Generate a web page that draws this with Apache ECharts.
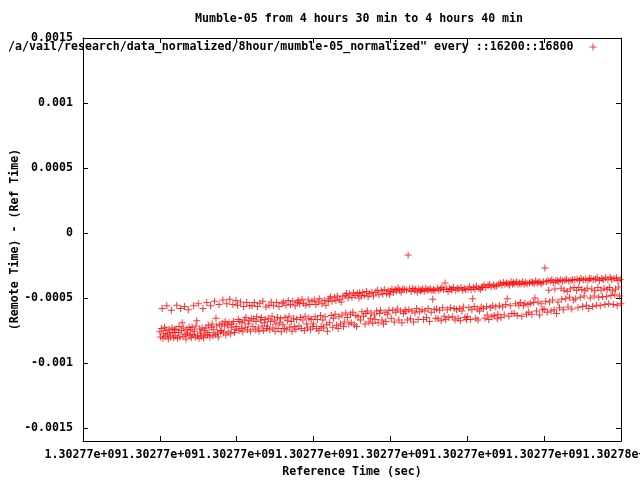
<!DOCTYPE html>
<html><head><meta charset="utf-8">
<script src="https://cdn.jsdelivr.net/npm/echarts@6/dist/echarts.min.js"></script>
<style>html,body{margin:0;padding:0;background:#fff}#c{width:640px;height:480px}</style>
</head><body><div id="c"></div>
<script>
const chartTitle = 'Mumble-05 from 4 hours 30 min to 4 hours 40 min';
const seriesName = '/a/vail/research/data_normalized/8hour/mumble-05_normalized" every ::16200::16800';
const xAxisName = 'Reference Time (sec)';
const yAxisName = '(Remote Time) - (Ref Time)';
const xMin = 1302774300, xMax = 1302775000, xInterval = 100;
const xTickLabels = ['1.30277e+09','1.30277e+09','1.30277e+09','1.30277e+09','1.30277e+09','1.30277e+09','1.30277e+09','1.30278e+09'];
const yMin = -0.0016, yMax = 0.0015;
const yTicks = [-0.0015, -0.001, -0.0005, 0, 0.0005, 0.001, 0.0015];
const sampleStart = 1302774400; // first sample time (sec), one sample per second
// (Remote Time) - (Ref Time), microseconds, one value per second
const offsetMicros = [
-760,-800,-735,-580,-810,-775,-725,-795,-750,-560,-785,-815,-740,-770,-800,-595,-730,-765,-805,-745,
-790,-740,-555,-810,-765,-720,-800,-580,-750,-690,-795,-730,-565,-780,-815,-745,-770,-590,-725,-790,
-745,-805,-725,-780,-560,-755,-800,-715,-675,-790,-545,-810,-740,-770,-795,-730,-580,-805,-750,-785,
-730,-535,-785,-710,-765,-800,-560,-725,-700,-790,-745,-525,-780,-655,-715,-770,-800,-550,-705,-760,
-750,-695,-515,-770,-715,-680,-785,-545,-705,-760,-690,-510,-775,-725,-700,-550,-680,-765,-740,-520,
-720,-555,-665,-750,-680,-530,-735,-690,-760,-565,-670,-725,-650,-535,-745,-700,-675,-560,-755,-660,
-560,-720,-660,-535,-745,-680,-645,-565,-730,-755,-540,-670,-650,-715,-525,-750,-690,-665,-570,-735,
-715,-655,-555,-745,-680,-530,-640,-730,-560,-670,-755,-700,-535,-650,-735,-565,-690,-660,-760,-540,
-705,-530,-735,-650,-555,-745,-675,-520,-640,-725,-550,-680,-755,-525,-655,-720,-560,-740,-665,-535,
-520,-715,-545,-650,-735,-510,-670,-540,-750,-640,-555,-700,-730,-515,-655,-550,-745,-665,-525,-720,
-700,-515,-645,-550,-735,-665,-530,-750,-505,-635,-720,-545,-670,-730,-520,-645,-555,-705,-755,-525,
-505,-690,-490,-635,-525,-725,-655,-495,-625,-520,-710,-485,-735,-645,-510,-700,-530,-630,-490,-720,
-685,-480,-615,-465,-650,-500,-700,-470,-625,-690,-495,-610,-460,-705,-480,-635,-720,-465,-645,-500,
-460,-670,-485,-605,-455,-640,-480,-700,-620,-450,-600,-490,-685,-465,-655,-615,-455,-695,-485,-630,
-665,-455,-600,-440,-690,-475,-620,-595,-445,-670,-470,-700,-435,-610,-680,-465,-625,-445,-595,-475,
-450,-655,-430,-595,-455,-685,-435,-610,-445,-585,-425,-670,-440,-600,-455,-690,-430,-620,-435,-590,
-605,-440,-670,-170,-590,-430,-660,-450,-600,-425,-685,-440,-615,-430,-580,-455,-665,-430,-605,-445,
-440,-590,-430,-665,-450,-600,-425,-650,-440,-580,-435,-680,-430,-610,-445,-510,-435,-590,-440,-655,
-585,-425,-660,-440,-595,-430,-675,-420,-575,-435,-640,-385,-665,-430,-590,-450,-650,-425,-575,-435,
-435,-645,-420,-580,-670,-440,-590,-425,-655,-430,-580,-675,-420,-600,-440,-570,-425,-650,-435,-665,
-645,-430,-575,-415,-665,-435,-590,-505,-420,-565,-430,-655,-410,-585,-670,-425,-600,-435,-570,-420,
-415,-580,-400,-655,-420,-565,-630,-405,-665,-395,-575,-415,-645,-560,-400,-635,-410,-570,-405,-660,
-625,-395,-560,-385,-650,-400,-570,-380,-630,-395,-550,-385,-505,-390,-640,-400,-560,-375,-620,-395,
-380,-620,-390,-545,-375,-635,-395,-555,-385,-535,-390,-640,-375,-560,-395,-540,-380,-625,-390,-550,
-610,-385,-540,-375,-625,-380,-535,-390,-500,-370,-600,-385,-530,-375,-630,-380,-545,-390,-590,-375,
-585,-270,-525,-375,-610,-365,-440,-530,-370,-600,-360,-515,-380,-590,-430,-370,-620,-365,-530,-375,
-575,-360,-425,-510,-370,-590,-440,-365,-505,-355,-450,-570,-370,-495,-430,-365,-585,-360,-515,-420,
-360,-505,-440,-355,-575,-420,-365,-495,-350,-435,-565,-360,-485,-445,-355,-555,-425,-365,-580,-350,
-500,-350,-430,-565,-360,-485,-445,-355,-555,-345,-420,-495,-365,-560,-440,-350,-490,-360,-425,-550,
-345,-490,-435,-355,-545,-420,-340,-480,-360,-445,-550,-350,-475,-430,-345,-555,-365,-415,-485,-355,
-545
];
const points = offsetMicros.map((v, i) => [sampleStart + i, v / 1e6]);

const FONT = 'DejaVu Sans Mono';
const fs = 11.6;
const fw = 'bold';
const plus = 'path://M3,0H4V3H7V4H4V7H3V4H0V3H3Z';
const axisLineStyle = {color: '#000', width: 1};
const chart = echarts.init(document.getElementById('c'), null, {renderer: 'canvas'});
const xLabelFmt = v => xTickLabels[Math.round((v - xMin) / xInterval)] || '';
chart.setOption({
  animation: false,
  backgroundColor: '#fff',
  textStyle: {fontFamily: FONT, fontSize: fs, fontWeight: fw, color: '#000'},
  title: {text: chartTitle, left: 354, top: 8, textAlign: 'center',
    textStyle: {fontFamily: FONT, fontSize: fs, fontWeight: fw, color: '#000'}},
  legend: {data: [seriesName], right: 43.5, top: 41, align: 'right', icon: plus,
    itemWidth: 29, itemHeight: 7, symbolKeepAspect: true, padding: 0,
    itemStyle: {color: '#ff0000'},
    textStyle: {fontFamily: FONT, fontSize: fs, fontWeight: fw, color: '#000'}},
  grid: {left: 83, right: 19, top: 38, bottom: 39, containLabel: false, outerBoundsMode: 'none'},
  xAxis: [{
    type: 'value', min: xMin, max: xMax, interval: xInterval,
    name: xAxisName, nameLocation: 'middle', nameGap: 25, nameMoveOverlap: false,
    nameTextStyle: {fontFamily: FONT, fontSize: fs, fontWeight: fw, color: '#000'},
    axisLine: {lineStyle: axisLineStyle, onZero: false},
    axisTick: {inside: true, length: 5, lineStyle: axisLineStyle},
    axisLabel: {formatter: xLabelFmt, margin: 8, fontFamily: FONT, fontSize: fs, fontWeight: fw, color: '#000',
      hideOverlap: false, showMinLabel: true, showMaxLabel: true},
    splitLine: {show: false}
  }, {
    type: 'value', position: 'top', min: xMin, max: xMax, interval: xInterval,
    axisLine: {lineStyle: axisLineStyle, onZero: false},
    axisTick: {inside: true, length: 5, lineStyle: axisLineStyle},
    axisLabel: {show: false}, splitLine: {show: false}
  }],
  yAxis: [{
    type: 'value', min: yMin, max: yMax,
    name: yAxisName, nameLocation: 'middle', nameGap: 62, nameRotate: 90, nameMoveOverlap: false,
    nameTextStyle: {fontFamily: FONT, fontSize: fs, fontWeight: fw, color: '#000'},
    axisLine: {show: true, lineStyle: axisLineStyle, onZero: false},
    axisTick: {show: true, inside: true, length: 5, lineStyle: axisLineStyle, customValues: yTicks},
    axisLabel: {customValues: yTicks, margin: 10, fontFamily: FONT, fontSize: fs, fontWeight: fw, color: '#000'},
    splitLine: {show: false}
  }, {
    type: 'value', position: 'right', min: yMin, max: yMax,
    axisLine: {show: true, lineStyle: axisLineStyle, onZero: false},
    axisTick: {show: true, inside: true, length: 5, lineStyle: axisLineStyle, customValues: yTicks},
    axisLabel: {show: false}, splitLine: {show: false}
  }],
  series: [{
    name: seriesName, type: 'scatter', xAxisIndex: 0, yAxisIndex: 0,
    symbol: plus, symbolSize: 7,
    itemStyle: {color: '#ff0000'},
    emphasis: {disabled: true},
    data: points
  }]
});
</script></body></html>
